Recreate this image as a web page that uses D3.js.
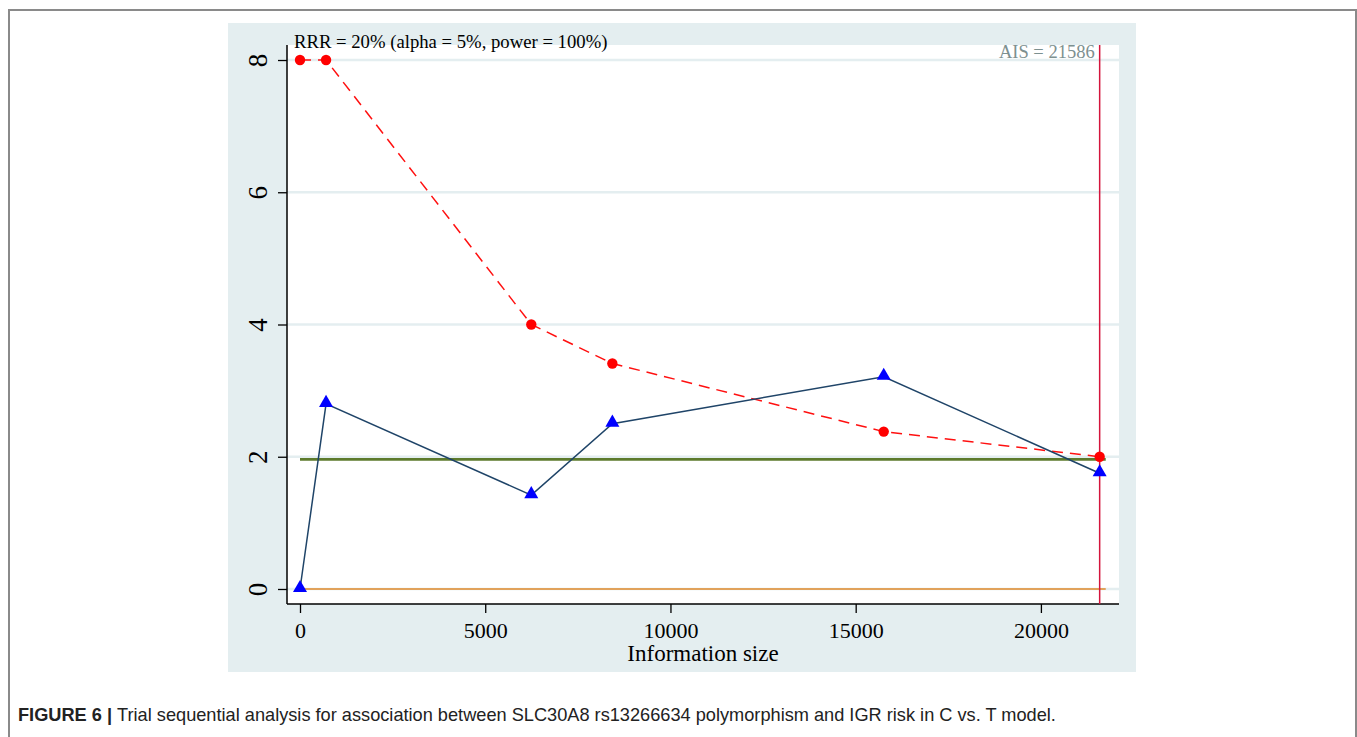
<!DOCTYPE html>
<html>
<head>
<meta charset="utf-8">
<script src="https://cdn.jsdelivr.net/npm/d3@7"></script>
<style>
  body { margin: 0; background: #fff; }
  svg { display: block; }
</style>
</head>
<body>
<div id="chart"></div>
<script>
// trial sequential analysis
const boundaryX = [0, 703, 6243, 8432, 15757, 21586];
const boundaryY = [8, 8, 4.0, 3.41, 2.38, 2.0];
const zCurveX = [0, 703, 6243, 8432, 15757, 21586];
const zCurveY = [0, 2.80, 1.42, 2.50, 3.21, 1.75];
const conventional = 1.96;
const ais = 21586;
const xTicks = [0, 5000, 10000, 15000, 20000];
const yTicks = [0, 2, 4, 6, 8];
const flatEnd = 21750;

const W = 1357, H = 737;
const svg = d3.select("#chart").append("svg")
  .attr("width", W)
  .attr("height", H);

// figure frame
svg.append("path")
  .attr("d", "M9,740 V10 H1356 V740")
  .attr("fill", "none")
  .attr("stroke", "#8a8a8a")
  .attr("stroke-width", 2);

// graph panel
svg.append("rect")
  .attr("x", 228).attr("y", 23)
  .attr("width", 908).attr("height", 649)
  .attr("fill", "#e4eef0");

const plot = { left: 287, right: 1119, top: 45, bottom: 604 };
svg.append("rect")
  .attr("x", plot.left).attr("y", plot.top)
  .attr("width", plot.right - plot.left)
  .attr("height", plot.bottom - plot.top)
  .attr("fill", "#fff");

const x = d3.scaleLinear()
  .domain([-351, 22108])
  .range([plot.left, plot.right]);
const y = d3.scaleLinear()
  .domain([-0.227, 8.227])
  .range([plot.bottom, plot.top]);

const serif = "'Liberation Serif', 'DejaVu Serif', serif";

// gridlines
svg.append("g").selectAll("line")
  .data(yTicks)
  .join("line")
  .attr("x1", plot.left).attr("x2", plot.right)
  .attr("y1", d => y(d)).attr("y2", d => y(d))
  .attr("stroke", "#e4eef0")
  .attr("stroke-width", 2.5);

// y axis
const yAxis = svg.append("g")
  .attr("transform", `translate(${plot.left},0)`)
  .call(d3.axisLeft(y).tickValues(yTicks).tickSize(9).tickPadding(0).tickFormat(d3.format("d")));
yAxis.select(".domain").attr("stroke", "#000").attr("stroke-width", 1.5)
  .attr("d", `M0,${plot.top}V${plot.bottom}`);
yAxis.selectAll(".tick line").attr("stroke", "#000").attr("stroke-width", 1.3);
yAxis.selectAll(".tick text")
  .attr("x", null).attr("dy", null)
  .attr("transform", "translate(-29,0) rotate(-90)")
  .attr("text-anchor", "middle")
  .attr("dominant-baseline", "central")
  .style("font-family", serif)
  .style("font-size", "27px")
  .attr("fill", "#000");

// x axis
const xAxis = svg.append("g")
  .attr("transform", `translate(0,${plot.bottom})`)
  .call(d3.axisBottom(x).tickValues(xTicks).tickSize(9).tickPadding(9).tickFormat(d3.format("d")));
xAxis.select(".domain").attr("stroke", "#000").attr("stroke-width", 1.5)
  .attr("d", `M${plot.left},0H${plot.right}`);
xAxis.selectAll(".tick line").attr("stroke", "#000").attr("stroke-width", 1.3);
xAxis.selectAll(".tick text")
  .style("font-family", serif)
  .style("font-size", "22px")
  .attr("fill", "#000");

svg.append("text")
  .attr("x", 703)
  .attr("y", 661)
  .attr("text-anchor", "middle")
  .style("font-family", serif)
  .style("font-size", "23px")
  .text("Information size");

// flat reference lines
svg.append("line")
  .attr("x1", x(0)).attr("x2", x(flatEnd))
  .attr("y1", y(0)).attr("y2", y(0))
  .attr("stroke", "#e0892a").attr("stroke-width", 1.6);
svg.append("line")
  .attr("x1", x(0)).attr("x2", x(flatEnd))
  .attr("y1", y(conventional)).attr("y2", y(conventional))
  .attr("stroke", "#5d7a2c").attr("stroke-width", 2.6);

// AIS vertical line
svg.append("line")
  .attr("x1", x(ais)).attr("x2", x(ais))
  .attr("y1", plot.top).attr("y2", plot.bottom)
  .attr("stroke", "#d4143c").attr("stroke-width", 1.5);
svg.append("text")
  .attr("x", x(ais) - 5)
  .attr("y", 58)
  .attr("text-anchor", "end")
  .style("font-family", serif)
  .style("font-size", "18.5px")
  .attr("fill", "#7d9090")
  .text("AIS = " + ais);

// monitoring boundary
const boundary = boundaryX.map((d, i) => [d, boundaryY[i]]);
const zcurve = zCurveX.map((d, i) => [d, zCurveY[i]]);
const line = d3.line().x(d => x(d[0])).y(d => y(d[1]));

svg.append("path")
  .datum(boundary)
  .attr("d", line)
  .attr("fill", "none")
  .attr("stroke", "#ff1010")
  .attr("stroke-width", 1.5)
  .attr("stroke-dasharray", "11,7");
svg.append("g").selectAll("circle")
  .data(boundary)
  .join("circle")
  .attr("cx", d => x(d[0])).attr("cy", d => y(d[1]))
  .attr("r", 5.2)
  .attr("fill", "#ff0000");

// cumulative z-curve
svg.append("path")
  .datum(zcurve)
  .attr("d", line)
  .attr("fill", "none")
  .attr("stroke", "#1f4468")
  .attr("stroke-width", 1.5);
const tri = d3.symbol().type(d3.symbolTriangle).size(85);
svg.append("g").selectAll("path")
  .data(zcurve)
  .join("path")
  .attr("d", tri)
  .attr("transform", d => `translate(${x(d[0])},${y(d[1]) - 1})`)
  .attr("fill", "#0000ff");

// title inside graph
svg.append("text")
  .attr("x", 294)
  .attr("y", 48)
  .style("font-family", serif)
  .style("font-size", "18.7px")
  .attr("fill", "#000")
  .text("RRR = 20% (alpha = 5%, power = 100%)");

// caption
const cap = svg.append("text")
  .attr("x", 18)
  .attr("y", 721)
  .style("font-family", "'Liberation Sans', Arial, sans-serif")
  .style("font-size", "18.2px")
  .attr("fill", "#222");
cap.append("tspan").style("font-weight", "bold").text("FIGURE 6 | ");
cap.append("tspan").text("Trial sequential analysis for association between SLC30A8 rs13266634 polymorphism and IGR risk in C vs. T model.");
</script>
</body>
</html>
